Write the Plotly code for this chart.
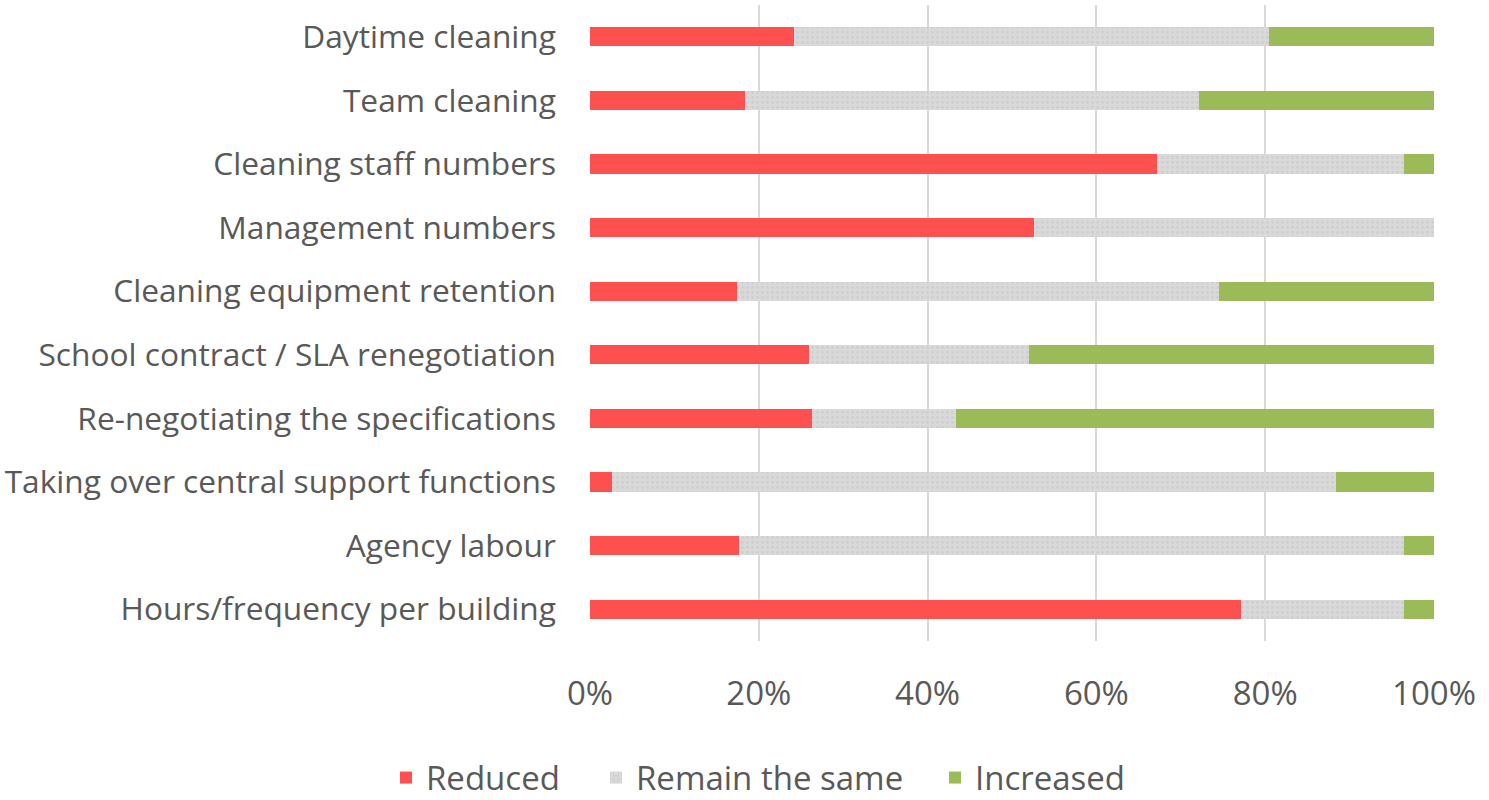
import plotly.graph_objects as go

categories = [
    "Daytime cleaning",
    "Team cleaning",
    "Cleaning staff numbers",
    "Management numbers",
    "Cleaning equipment retention",
    "School contract / SLA renegotiation",
    "Re-negotiating the specifications",
    "Taking over central support functions",
    "Agency labour",
    "Hours/frequency per building",
]
reduced = [24.2, 18.4, 67.2, 52.6, 17.4, 25.9, 26.3, 2.6, 17.7, 77.1]
remain = [56.3, 53.8, 29.2, 47.4, 57.1, 26.1, 17.1, 85.8, 78.7, 19.3]
increased = [19.5, 27.8, 3.6, 0.0, 25.5, 48.0, 56.6, 11.6, 3.6, 3.6]

font_family = "Open Sans, Noto Sans, sans-serif"
text_color = "#595959"

fig = go.Figure()
fig.add_trace(go.Bar(
    y=categories, x=[v / 100 for v in reduced], name="Reduced", orientation="h",
    marker=dict(color="#ff5050", line=dict(width=0)), legend="legend",
))
fig.add_trace(go.Bar(
    y=categories, x=[v / 100 for v in remain], name="Remain the same", orientation="h",
    marker=dict(color="#d9d9d9", line=dict(width=0),
                pattern=dict(shape=".", bgcolor="#d9d9d9", fgcolor="#c4c4c4",
                             size=5, solidity=0.25)),
    legend="legend2",
))
fig.add_trace(go.Bar(
    y=categories, x=[v / 100 for v in increased], name="Increased", orientation="h",
    marker=dict(color="#9bbb59", line=dict(width=0)), legend="legend3",
))

leg_common = dict(orientation="h", xanchor="left", xref="container",
                  y=0.028, yref="container", yanchor="middle",
                  font=dict(size=33, color=text_color), itemwidth=30,
                  bgcolor="rgba(0,0,0,0)")

fig.update_layout(
    barmode="stack",
    bargap=0.70,
    width=1489, height=800,
    margin=dict(l=590, r=55, t=5, b=159),
    paper_bgcolor="white", plot_bgcolor="white",
    font=dict(family=font_family, size=32, color=text_color),
    showlegend=True,
    legend=dict(x=386 / 1489, **leg_common),
    legend2=dict(x=596 / 1489, **leg_common),
    legend3=dict(x=935 / 1489, **leg_common),
    xaxis=dict(range=[0, 1], tickformat=".0%", dtick=0.2, tick0=0,
               showgrid=True, gridcolor="#d9d9d9", gridwidth=2,
               zeroline=False, showline=False, ticks="", automargin=False,
               ticklabelstandoff=30, tickfont=dict(size=33, color=text_color)),
    yaxis=dict(autorange="reversed", showgrid=False, ticks="", showline=False,
               automargin=False,
               ticklabelstandoff=33, tickfont=dict(size=31.7, color=text_color)),
)

fig.write_html("out.html", config={"displayModeBar": False},
               post_script="document.body.style.margin='0';")
